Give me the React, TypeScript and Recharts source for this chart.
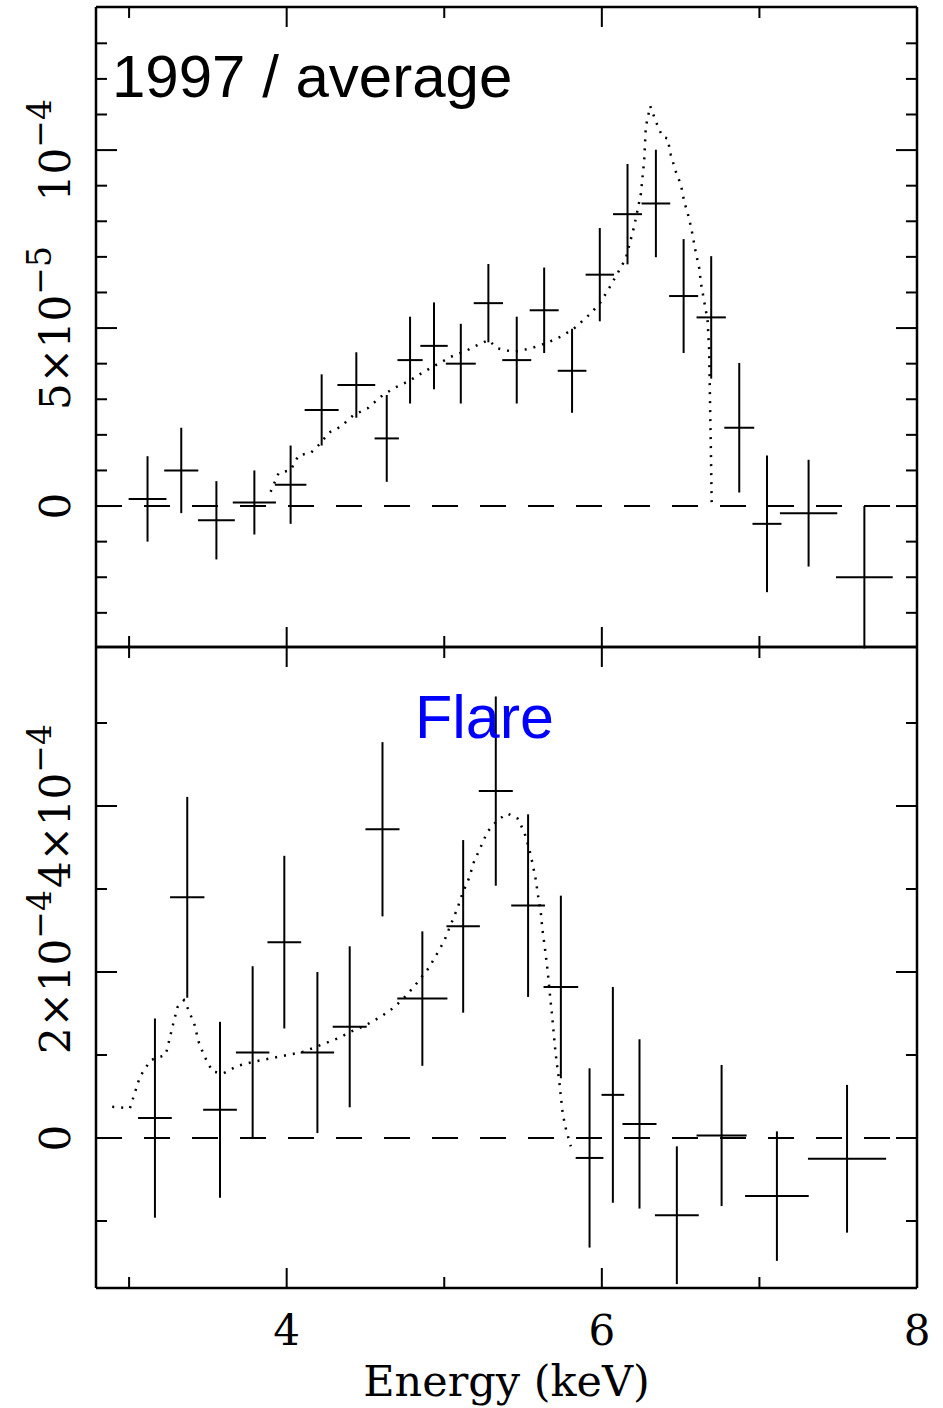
import React from 'react'
import { ComposedChart, Scatter, ErrorBar, XAxis, YAxis, ReferenceLine, Label } from 'recharts'

// shared energy axis (keV)
const X_MIN = 2.79
const X_MAX = 8.0
const energyTicks = [3, 4, 5, 6, 7, 8]

// 1997 / average — flux in units of 1e-5
const avgEnergy = [3.117, 3.331, 3.554, 3.795, 4.025, 4.222, 4.442, 4.635, 4.783, 4.935, 5.105, 5.28, 5.46, 5.634, 5.811, 5.987, 6.163, 6.343, 6.519, 6.694, 6.872, 7.048, 7.312, 7.666]
const avgEnergyHalf = [0.12, 0.108, 0.117, 0.137, 0.1, 0.108, 0.12, 0.077, 0.08, 0.087, 0.095, 0.093, 0.092, 0.092, 0.091, 0.09, 0.092, 0.091, 0.092, 0.093, 0.095, 0.092, 0.182, 0.18]
const avgFlux = [0.2, 1.0, -0.4, 0.1, 0.6, 2.7, 3.4, 1.9, 4.1, 4.5, 4.0, 5.7, 4.1, 5.5, 3.8, 6.5, 8.2, 8.5, 5.9, 5.3, 2.2, -0.5, -0.2, -2.0]
const avgFluxErr = [1.2, 1.2, 1.1, 0.9, 1.1, 1.0, 0.92, 1.22, 1.22, 1.22, 1.12, 1.1, 1.22, 1.2, 1.18, 1.31, 1.41, 1.51, 1.6, 1.72, 1.82, 1.92, 1.5, 2.0]
const avgModelEnergy = [3.898, 3.949, 4.025, 4.076, 4.152, 4.216, 4.267, 4.343, 4.425, 4.512, 4.597, 4.679, 4.775, 4.87, 4.946, 5.041, 5.147, 5.232, 5.281, 5.338, 5.441, 5.549, 5.644, 5.74, 5.824, 5.919, 5.987, 6.046, 6.1, 6.152, 6.205, 6.248, 6.269, 6.279, 6.307, 6.343, 6.385, 6.417, 6.438, 6.47, 6.502, 6.523, 6.554, 6.576, 6.597, 6.618, 6.629, 6.65, 6.671, 6.681, 6.688, 6.692, 6.697]
const avgModelFlux = [0.4, 0.93, 1.01, 1.43, 1.49, 1.77, 2.06, 2.23, 2.56, 2.74, 3.07, 3.31, 3.51, 3.77, 3.96, 4.19, 4.38, 4.57, 4.66, 4.43, 4.33, 4.43, 4.57, 4.76, 4.99, 5.37, 5.69, 6.12, 6.54, 6.96, 7.85, 8.78, 9.72, 10.65, 11.24, 10.8, 10.37, 10.33, 9.86, 9.39, 9.02, 8.55, 8.08, 7.61, 7.1, 6.68, 6.26, 5.74, 5.22, 4.38, 2.51, 1.57, 0.08]
const avgDomain = [-3.96, 14.02]
const avgTicks = [-3, -2, -1, 0, 1, 2, 3, 4, 5, 6, 7, 8, 9, 10, 11, 12, 13]

// Flare — flux in units of 1e-4
const flareEnergy = [3.164, 3.369, 3.577, 3.784, 3.985, 4.195, 4.4, 4.608, 4.861, 5.12, 5.327, 5.532, 5.74, 5.922, 6.07, 6.239, 6.476, 6.76, 7.111, 7.556]
const flareEnergyHalf = [0.107, 0.109, 0.107, 0.106, 0.107, 0.106, 0.108, 0.108, 0.159, 0.106, 0.108, 0.107, 0.11, 0.088, 0.072, 0.108, 0.139, 0.159, 0.202, 0.248]
const flareFlux = [0.24, 2.9, 0.34, 1.03, 2.36, 1.03, 1.34, 3.72, 1.68, 2.55, 4.18, 2.8, 1.82, -0.24, 0.52, 0.17, -0.93, 0.03, -0.7, -0.25]
const flareFluxErr = [1.2, 1.21, 1.06, 1.04, 1.04, 0.97, 0.97, 1.05, 0.81, 1.04, 1.14, 1.1, 1.1, 1.08, 1.3, 1.02, 0.83, 0.85, 0.78, 0.89]
const flareModelEnergy = [2.893, 3.005, 3.069, 3.137, 3.232, 3.283, 3.308, 3.348, 3.378, 3.416, 3.441, 3.479, 3.53, 3.6, 3.689, 3.79, 3.898, 4.006, 4.108, 4.216, 4.324, 4.406, 4.502, 4.597, 4.679, 4.756, 4.832, 4.902, 4.957, 4.999, 5.041, 5.084, 5.116, 5.157, 5.189, 5.232, 5.274, 5.338, 5.401, 5.465, 5.507, 5.538, 5.56, 5.581, 5.596, 5.613, 5.623, 5.638, 5.651, 5.662, 5.672, 5.683, 5.693, 5.703, 5.714, 5.729, 5.74, 5.752, 5.773, 5.803]
const flareModelFlux = [0.377, 0.358, 0.739, 0.94, 1.0, 1.4, 1.58, 1.66, 1.54, 1.36, 1.16, 0.98, 0.8, 0.78, 0.87, 0.92, 0.96, 1.0, 1.04, 1.12, 1.2, 1.28, 1.36, 1.46, 1.57, 1.71, 1.88, 2.05, 2.23, 2.37, 2.57, 2.77, 2.95, 3.13, 3.33, 3.51, 3.69, 3.83, 3.91, 3.85, 3.69, 3.49, 3.31, 3.11, 2.91, 2.71, 2.51, 2.3, 2.1, 1.9, 1.7, 1.5, 1.3, 1.09, 0.9, 0.7, 0.5, 0.29, 0.1, -0.1]
const flareDomain = [-1.807, 5.916]
const flareTicks = [-1, 0, 1, 2, 3, 4, 5]

const avgPoints = avgEnergy.map((x, i) => ({ x, y: avgFlux[i], ex: avgEnergyHalf[i], ey: avgFluxErr[i] }))
const avgModel = avgModelEnergy.map((x, i) => ({ x, y: avgModelFlux[i] }))
const flarePoints = flareEnergy.map((x, i) => ({ x, y: flareFlux[i], ex: flareEnergyHalf[i], ey: flareFluxErr[i] }))
const flareModel = flareModelEnergy.map((x, i) => ({ x, y: flareModelFlux[i] }))

const SERIF = '"DejaVu Serif", serif'
const SANS = '"Liberation Sans", Arial, sans-serif'
const axisLine = { stroke: '#000', strokeWidth: 2.5 }

function XTick(props: any) {
  const { x, y, payload, side, labels } = props
  const v = payload.value
  const major = v % 2 === 0
  const len = major ? 20 : 11
  const dir = side === 'bottom' ? -1 : 1
  return (
    <g>
      <line x1={x} x2={x} y1={y} y2={y + dir * len} stroke="#000" strokeWidth={2} />
      {labels && major && (
        <text x={x} y={y + 57} textAnchor="middle" fontFamily={SERIF} fontSize={42} fill="#000">
          {v}
        </text>
      )}
    </g>
  )
}

function YTick(props: any) {
  const { x, y, payload, side, isMajor, format } = props
  const v = payload.value
  const major = isMajor(v)
  const len = major ? 21 : 11
  const dir = side === 'left' ? 1 : -1
  const lbl = side === 'left' && major ? format(v) : null
  return (
    <g>
      <line x1={x} x2={x + dir * len} y1={y} y2={y} stroke="#000" strokeWidth={2} />
      {lbl && (
        <text transform={`translate(${x - 26},${y}) rotate(-90)`} textAnchor="middle" fontFamily={SERIF} fontSize={42} fill="#000">
          <tspan>{lbl[0]}</tspan>
          {lbl[1] && <tspan dy={-19} fontSize={33}>{lbl[1]}</tspan>}
        </text>
      )}
    </g>
  )
}

const avgFormat = (v: number) => (v === 0 ? ['0'] : v === 5 ? ['5×10', '−5'] : ['10', '−4'])
const flareFormat = (v: number) => (v === 0 ? ['0'] : [`${v}×10`, '−4'])

function Panel({ points, model, domain, ticks, isMajor, format, height, margin, bottomLabels }: any) {
  return (
    <ComposedChart width={943} height={height} margin={margin}>
      <XAxis xAxisId="b" type="number" dataKey="x" orientation="bottom" domain={[X_MIN, X_MAX]} ticks={energyTicks}
        allowDataOverflow interval={0} height={bottomLabels ? 120 : 1} tickSize={0} tickMargin={0} tickLine={false}
        axisLine={axisLine} tick={(p: any) => <XTick {...p} side="bottom" labels={bottomLabels} />}>
        {bottomLabels && (
          <Label value="Energy (keV)" position="insideBottom" offset={12} fontFamily={SERIF} fontSize={43} fill="#000" />
        )}
      </XAxis>
      <XAxis xAxisId="t" type="number" dataKey="x" orientation="top" domain={[X_MIN, X_MAX]} ticks={energyTicks}
        allowDataOverflow interval={0} height={1} tickSize={0} tickMargin={0} tickLine={false}
        axisLine={axisLine} tick={(p: any) => <XTick {...p} side="top" />} />
      <YAxis yAxisId="l" type="number" dataKey="y" orientation="left" domain={domain} ticks={ticks}
        allowDataOverflow interval={0} width={96} tickSize={0} tickMargin={0} tickLine={false}
        axisLine={axisLine} tick={(p: any) => <YTick {...p} side="left" isMajor={isMajor} format={format} />} />
      <YAxis yAxisId="r" type="number" dataKey="y" orientation="right" domain={domain} ticks={ticks}
        allowDataOverflow interval={0} width={26} tickSize={0} tickMargin={0} tickLine={false}
        axisLine={axisLine} tick={(p: any) => <YTick {...p} side="right" isMajor={isMajor} format={format} />} />
      <ReferenceLine xAxisId="b" yAxisId="l" y={0} stroke="#000" strokeWidth={2} strokeDasharray="26 22" />
      <Scatter xAxisId="b" yAxisId="l" data={points} dataKey="y" fill="#000" shape={() => <g />} isAnimationActive={false}>
        <ErrorBar dataKey="ex" direction="x" width={0} stroke="#000" strokeWidth={2} isAnimationActive={false} />
        <ErrorBar dataKey="ey" direction="y" width={0} stroke="#000" strokeWidth={2} isAnimationActive={false} />
      </Scatter>
      <Scatter xAxisId="b" yAxisId="l" data={model} dataKey="y" fill="#000" shape={() => <g />} lineType="joint"
        line={{ stroke: '#000', strokeWidth: 2.5, strokeDasharray: '2 7' }} isAnimationActive={false} />
    </ComposedChart>
  )
}

export default function App() {
  return (
    <div style={{ position: 'absolute', left: 0, top: 0, width: 943, height: 1408, background: '#fff' }}>
      <div style={{ position: 'absolute', left: 0, top: 0 }}>
        <Panel points={avgPoints} model={avgModel} domain={avgDomain} ticks={avgTicks}
          isMajor={(v: number) => v % 5 === 0} format={avgFormat}
          height={650} margin={{ top: 6, right: 0, bottom: 2, left: 0 }} bottomLabels={false} />
      </div>
      <div style={{ position: 'absolute', left: 0, top: 644 }}>
        <Panel points={flarePoints} model={flareModel} domain={flareDomain} ticks={flareTicks}
          isMajor={(v: number) => v % 2 === 0} format={flareFormat}
          height={764} margin={{ top: 2, right: 0, bottom: 0, left: 0 }} bottomLabels />
      </div>
      <svg width={943} height={1408} style={{ position: 'absolute', left: 0, top: 0, pointerEvents: 'none' }}>
        <text x={112} y={97} fontFamily={SANS} fontSize={60} fill="#000">1997 / average</text>
        <text x={415} y={738} fontFamily={SANS} fontSize={61} fill="#0000ff">Flare</text>
      </svg>
    </div>
  )
}
